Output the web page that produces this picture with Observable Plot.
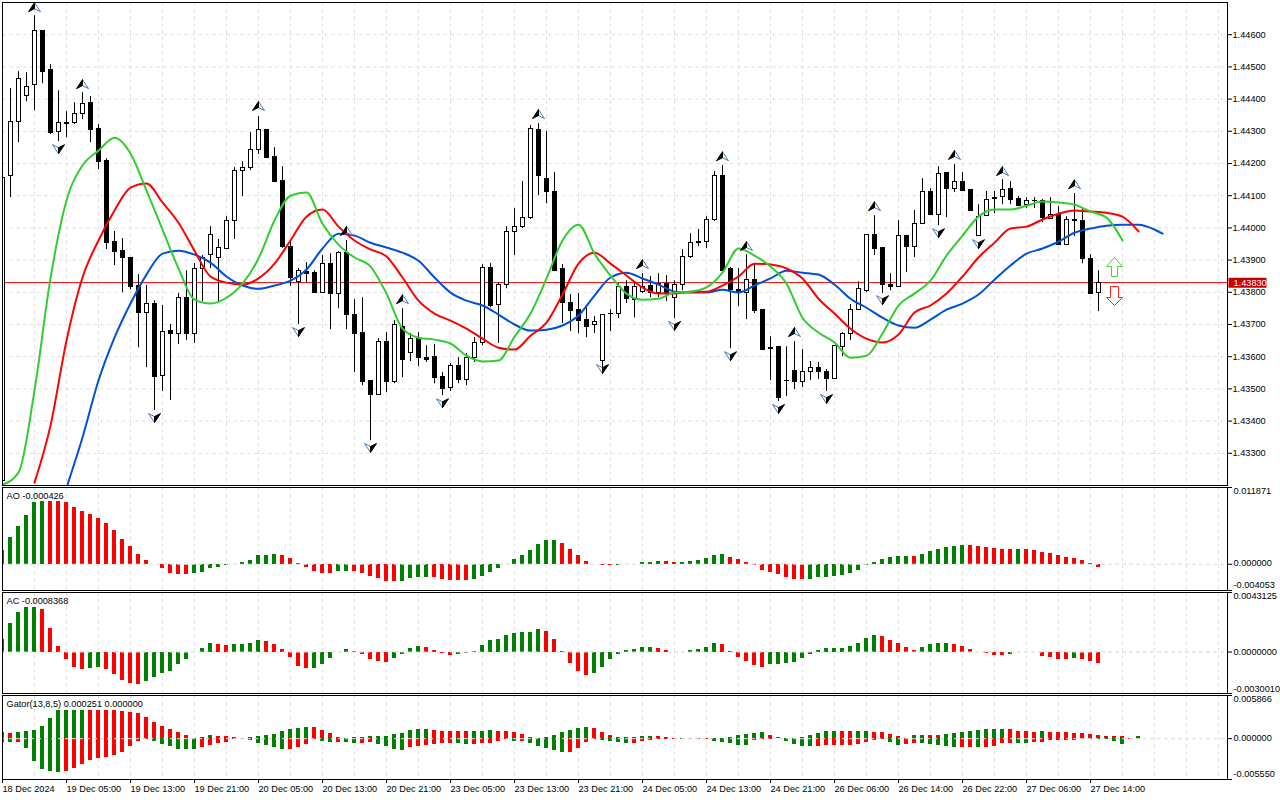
<!DOCTYPE html>
<html><head><meta charset="utf-8">
<script src="https://cdn.jsdelivr.net/npm/d3@7"></script>
<script src="https://cdn.jsdelivr.net/npm/@observablehq/plot@0.6"></script>
<style>html,body{margin:0;background:#fff;overflow:hidden}#chart{position:relative;width:1280px;height:800px}#chart svg{position:absolute;left:0}</style>
</head><body><div id="chart"></div>
<script>
// Prices are stored as points (1e-5) above this base
const priceBase = 1.43;
const open = [215,1162,1330,1411,1445,1610,1489,1299,1324,1327,1355,1389,1308,1209,957,929,908,821,737,765,
541,681,669,783,669,871,917,905,936,1020,1178,1187,1243,1305,1221,1147,942,833,864,861,
799,889,796,923,731,675,523,482,647,520,693,610,659,597,600,538,504,572,529,597,
641,877,762,824,986,1004,1032,1305,1153,1113,871,768,746,715,697,588,732,734,815,777,
802,821,799,827,783,824,911,957,957,1023,1162,871,808,799,839,746,625,631,526,557,
520,554,566,554,532,631,669,746,805,979,939,824,818,976,942,1013,1110,1041,1169,1122,
1144,1119,976,1038,1094,1097,1122,1091,1072,1085,1082,1029,1041,948,1023,1020,902,799];
const high = [1178,1433,1485,1482,1659,1610,1507,1426,1361,1389,1420,1408,1321,1215,989,967,908,855,821,774,
759,700,796,867,889,914,1004,964,1035,1187,1206,1296,1346,1305,1249,1190,961,874,892,867,
914,920,926,961,777,783,523,656,675,712,749,672,675,634,638,551,579,597,610,659,
886,889,830,1004,1060,1144,1318,1324,1299,1172,886,793,796,752,725,731,746,827,836,827,
858,849,858,852,836,933,982,995,1035,1175,1194,877,874,917,889,746,662,631,631,647,
622,585,582,560,634,675,762,833,979,1038,939,858,1023,976,1054,1153,1122,1190,1172,1197,
1172,1119,1072,1113,1113,1150,1144,1097,1094,1094,1088,1094,1066,1035,1107,1060,917,867];
const low = [199,1094,1265,1392,1364,1448,1290,1268,1280,1321,1336,1265,1181,933,883,799,808,628,566,433,
492,464,638,650,641,771,874,771,936,964,1097,1178,1228,1218,1141,936,818,700,830,799,
799,684,749,684,551,510,339,482,488,516,535,585,569,582,516,479,492,516,510,582,
634,752,641,811,914,998,1026,1100,1075,864,703,678,672,659,672,547,678,718,765,721,
796,783,783,771,718,805,905,942,936,1020,867,625,756,715,734,622,526,461,476,498,
504,526,529,492,532,600,650,743,799,914,796,805,815,861,908,1013,1041,1007,1032,1110,
1113,1054,976,1038,1044,1072,1072,1066,1060,1060,1016,1026,945,945,973,889,796,740];
const close = [1156,1330,1461,1439,1613,1485,1296,1327,1327,1355,1386,1305,1206,954,926,905,818,737,765,538,
678,669,783,669,871,908,979,939,1020,1178,1187,1243,1305,1218,1144,942,843,867,858,799,
889,796,923,728,672,520,482,647,520,697,591,656,597,591,535,501,572,529,597,641,
877,759,824,986,1004,1032,1308,1162,1110,867,768,743,712,693,709,728,734,815,780,815,
818,799,827,799,824,911,954,954,1023,1162,867,808,799,839,743,622,628,473,523,520,
551,566,551,532,634,669,746,811,979,936,824,818,976,942,1013,1110,1041,1166,1122,1141,
1116,1054,1035,1088,1091,1119,1088,1069,1085,1082,1032,1041,948,1023,1020,902,796,830];

// Alligator lines, read every second bar
const lipsStart = 0;
const lips = [203,240,495,843,1085,1194,1240,1280,1231,1116,995,874,777,765,783,827,905,1023,1100,1110,1013,948,908,880,796,687,659,653,641,603,585,588,662,734,843,961,1010,920,852,796,777,780,799,802,815,861,936,914,880,827,721,675,644,597,603,672,759,796,836,914,976,1035,1057,1057,1069,1082,1079,1072,1051,1032,961];
const teethStart = 4;
const teeth = [209,386,650,846,961,1054,1125,1138,1079,1016,929,849,830,824,843,889,961,1035,1057,1004,961,933,911,846,774,734,712,687,656,628,622,665,706,793,889,923,889,852,815,796,796,802,802,821,849,889,886,874,843,780,734,687,656,644,669,737,759,796,849,908,954,998,1004,1026,1044,1054,1051,1047,1035,989];
const jawStart = 8;
const jaw = [193,349,526,659,765,855,920,929,917,892,849,821,811,821,836,871,936,982,976,954,939,923,898,846,799,774,759,731,700,681,684,697,728,790,846,861,843,824,802,799,799,808,799,821,843,867,861,855,824,780,752,721,697,690,715,746,765,793,839,883,920,936,957,985,998,1007,1010,1010,995];
const jawLastBar = 145, jawLast = 982;

const fractalUpBars = [4,10,32,43,50,67,80,90,93,99,109,119,125,134];
const fractalUp = [1684,1445,1377,989,777,1352,886,1221,942,675,1066,1225,1175,1134];
const fractalDownBars = [7,19,37,46,55,75,84,91,97,103,110,117,122];
const fractalDown = [1246,411,678,318,457,563,697,603,439,470,777,985,951];
const arrowBar = 139, arrowUpPrice = 877, arrowDownPrice = 790;
const lastPrice = 1.4383;

const priceTicks = [1.446,1.445,1.444,1.443,1.442,1.441,1.44,1.439,1.438,1.437,1.436,1.435,1.434,1.433];

// Oscillators, in millionths
const ao = [2184,4108,5772,7488,9516,9672,9672,9672,9516,8736,8112,7644,7020,6240,5148,3900,2808,1560,624,-104,
-728,-1404,-1560,-1508,-1352,-1196,-624,-572,-260,-104,312,624,1300,1404,1560,1404,936,52,-572,-1092,
-1352,-1352,-1040,-1040,-1040,-1352,-1872,-2132,-2600,-2600,-2600,-2132,-1976,-1976,-1976,-2288,-2444,-2444,-2444,-2288,
-1820,-1196,-728,-104,780,1404,2184,3120,3744,3744,3276,2340,1404,468,-104,-260,-260,-208,-104,-52,
312,312,468,468,312,312,468,624,936,1404,1560,1092,780,312,-208,-884,-1196,-1508,-1976,-2288,
-2288,-2288,-1976,-1976,-1820,-1664,-1352,-884,-208,312,780,1092,1248,1248,1248,1560,2028,2340,2652,2808,
2964,2964,2808,2652,2496,2340,2340,2340,2340,2184,1872,1716,1404,1092,936,624,156,-426];
const aoColor = ("GGGGGGRRRR"+"RRRRRRRRRR"+"RRRRGGGGGG"+"GGGGGRRRRR"+"RRGGRRRRRR"+"GGGGRRRRRG"+"GGGGGGGGGG"+"RRRRRRRGGG"+"GGGRRGGGGG"+"GRRRRRRRRR"+"RGGGGGGGGG"+"GGGGRGGGGG"+"GRRRRRRGRR"+"RRRRRRRR").split("");
const ac = [942,2101,2898,3260,3260,3115,1739,435,-507,-1087,-1232,-1159,-1087,-1232,-1594,-2029,-2246,-2318,-2101,-1811,
-1521,-1377,-869,-507,-24,290,652,580,507,580,580,652,869,797,580,217,-362,-1014,-1159,-1159,
-869,-435,-24,217,72,-145,-507,-652,-725,-435,-145,290,435,362,145,-121,-217,-193,-121,72,
507,869,942,1232,1377,1449,1449,1666,1521,942,72,-797,-1377,-1666,-1521,-1087,-507,-145,145,217,
362,362,290,145,-48,-24,121,217,362,652,580,24,-362,-652,-942,-1087,-869,-869,-797,-725,
-435,-145,145,290,290,290,435,652,1014,1232,1159,869,652,362,145,362,580,652,652,580,
435,217,-48,-72,-217,-217,-145,-24,-48,-24,-290,-362,-507,-507,-435,-507,-652,-837];
const acColor = ("GGGGGRRRRR"+"RGGRRRRRGG"+"GGGGGGGRRG"+"GGGRRRRRRG"+"GGGGRRRRRG"+"GGGRRRRGGG"+"GGGGGGGGRR"+"RRRRGGGGGG"+"GGRRRGGGGG"+"RRRRRRGGGG"+"GGGGGGGGGG"+"RRRRRGGGGR"+"RRRRRRGGGR"+"RRRRGRRR").split("");
const gatorUp = [868,731,868,1005,1142,1689,2785,3881,3881,3881,3881,3881,3881,3881,3881,3744,3607,3470,2922,2237,
1689,1278,868,457,46,183,457,320,320,183,46,183,320,457,594,1005,1278,1415,1552,1552,
1142,731,183,46,183,183,320,320,320,594,731,1142,1278,1278,1142,1005,1005,1005,1005,1005,
1005,1142,1005,1005,868,594,183,0,183,457,868,1142,1415,1552,1415,868,457,183,183,183,
320,320,320,183,46,46,46,46,0,46,46,183,457,594,731,868,457,183,46,46,
183,457,731,1005,1005,1005,1005,1005,1005,868,868,594,320,46,457,457,457,457,594,731,
868,1005,1142,1278,1278,1278,1278,1005,1005,868,1005,868,868,868,731,731,594,457,320,320,320,46,320];
const gatorUpColor = ("RRGGGGGGGG"+"GRRRRRRRRR"+"RRRRRGGRRR"+"RGGGGGGGGR"+"RRRRGRGGGG"+"GGGGRRRRRG"+"GGRRRRRRGG"+"GGGGRRRRGG"+"GGRRRGRRRG"+"RGGGGGRRGG"+"GGGGGRRGGR"+"RRRRGGRRGG"+"GGGGGGRRRR"+"GRRRRRRRRR"+"RRG").split("");
const gatorDown = [457,457,457,1324,3105,4201,4475,4612,4475,4064,3516,2968,2694,2557,2283,1872,1050,365,91,365,
776,1050,1461,1461,1461,1187,913,639,502,91,91,228,639,913,1187,1461,1461,1187,776,91,
365,502,502,502,639,639,502,776,1050,1461,1598,1187,1050,913,776,639,639,639,776,776,
639,639,365,91,365,365,639,1050,1324,1598,1872,1872,1324,502,91,228,365,502,639,639,
365,228,91,91,91,46,91,46,46,365,502,639,913,913,228,91,91,0,365,776,
1050,1050,1050,913,913,913,913,776,502,183,91,502,913,776,639,639,776,913,1050,1187,
1187,1187,1187,1187,1050,639,639,639,639,502,502,274,274,228,183,91,46,91,137,365,776,46,46];
const gatorDownColor = ("GGRGGGGGRR"+"RRRRRRRRRG"+"GGGGGRRRRR"+"RGGGGGRRRR"+"GGRGGRRGGG"+"GRRRRRRGGR"+"RRRRGRGGGG"+"GRRRRGGGGR"+"RRRRRGRRRG"+"GGGGRRRRGG"+"GGRRRRRRRR"+"RGGRRGGGGG"+"RRGRRRRGGR"+"RRRRRRRGGG"+"GRG").split("");

const xTickBars = [0,8,16,24,32,40,48,56,64,72,80,88,96,104,112,120,128,136];
const xTickLabels = ["18 Dec 2024","19 Dec 05:00","19 Dec 13:00","19 Dec 21:00","20 Dec 05:00","20 Dec 13:00","20 Dec 21:00","23 Dec 05:00","23 Dec 13:00","23 Dec 21:00","24 Dec 05:00","24 Dec 13:00","24 Dec 21:00","26 Dec 06:00","26 Dec 14:00","26 Dec 22:00","27 Dec 06:00","27 Dec 14:00"];

const GREEN="#008000", RED="#ff0000", LIPS="#32cd32", JAW="#0050d8", GRID="#e3e3e3";
const toPrice = p => priceBase + p*1e-5;
const gridBars = d3.range(4,156,4);
const xDomain = [0, 1225/8];
const fontStyle = {fontFamily:"'Liberation Sans',sans-serif",fontSize:"9.2px",color:"#000",background:"transparent"};

function frameOpts(top,bottom,yDomain,extra={}){
  const svgTop = top-2;
  return {
    svgTop,
    plot:{
      width:1280, height:(extra.height ?? bottom+1-svgTop),
      marginLeft:2, marginRight:53, marginTop:2, marginBottom:(extra.height ? extra.height-(bottom-svgTop) : 1),
      style:fontStyle,
      x:{type:"linear",domain:xDomain,axis:null},
      y:{type:"linear",domain:yDomain,axis:null},
      color:{type:"identity"}
    }
  };
}
function addPanel(cfg,marks){
  const svg = Plot.plot({...cfg.plot,marks});
  svg.style.top = cfg.svgTop+"px";
  document.getElementById("chart").appendChild(svg);
}
const gridV = () => Plot.gridX(gridBars,{stroke:GRID,strokeOpacity:1,strokeDasharray:"4 3"});
const poly = pts => ({draw(c){pts.forEach((p,k)=>k?c.lineTo(p[0],p[1]):c.moveTo(p[0],p[1]));c.closePath();}});

// ---- main panel
const bars = open.map((o,i)=>({i,o:toPrice(o),h:toPrice(high[i]),l:toPrice(low[i]),c:toPrice(close[i])}));
const sampled = (vals,start)=>vals.map((v,k)=>({i:start+2*k,v:toPrice(v)}));
const jawPts = sampled(jaw,jawStart).concat([{i:jawLastBar,v:toPrice(jawLast)}]);
const upPts = fractalUpBars.map((i,k)=>({i,v:toPrice(fractalUp[k])}));
const downPts = fractalDownBars.map((i,k)=>({i,v:toPrice(fractalDown[k])}));
const dotOpts = (sym,fill,stroke)=>({x:"i",y:"v",r:6,symbol:sym,fill,stroke,strokeWidth:1});

addPanel(frameOpts(2,485,[1.432,1.447]),[
  gridV(),
  Plot.gridY(priceTicks,{stroke:GRID,strokeOpacity:1,strokeDasharray:"4 3"}),
  Plot.ruleY([lastPrice],{stroke:"#e80000",strokeWidth:1}),
  Plot.ruleX(bars,{x:"i",y1:"l",y2:"h",stroke:"#000",strokeWidth:1,clip:true}),
  Plot.rect(bars,{x1:d=>d.i-0.1875,x2:d=>d.i+0.3125,y1:"o",y2:"c",stroke:"#000",strokeWidth:1,shapeRendering:"crispEdges",fill:d=>d.c>=d.o?"#fff":"#000",clip:true}),
  Plot.line(jawPts,{x:"i",y:"v",stroke:JAW,strokeWidth:2,clip:true,curve:"monotone-x"}),
  Plot.line(sampled(teeth,teethStart),{x:"i",y:"v",stroke:RED,strokeWidth:2,clip:true,curve:"monotone-x"}),
  Plot.line(sampled(lips,lipsStart),{x:"i",y:"v",stroke:LIPS,strokeWidth:2,clip:true,curve:"monotone-x"}),
  Plot.dot(upPts,dotOpts(poly([[0,-5],[6,4],[0,1]]),"#fff","#4a78b0")),
  Plot.dot(upPts,dotOpts(poly([[0,-5],[-6,4],[0,1]]),"#000","#000")),
  Plot.dot(downPts,dotOpts(poly([[0,5],[-6,-4],[0,-1]]),"#fff","#4a78b0")),
  Plot.dot(downPts,dotOpts(poly([[0,5],[6,-4],[0,-1]]),"#000","#000")),
  Plot.dot([{i:arrowBar,v:toPrice(arrowUpPrice)}],dotOpts(poly([[0,-10],[8,-1],[3,-1],[3,9],[-3,9],[-3,-1],[-8,-1]]),"#fff","#4fce3f")),
  Plot.dot([{i:arrowBar,v:toPrice(arrowDownPrice)}],dotOpts(poly([[-4,-9],[4,-9],[4,2],[8,2],[0,10],[-8,2],[-4,2]]),"#fff","#ff2020")),
  Plot.axisY(priceTicks,{anchor:"right",tickSize:4,tickPadding:1,label:null,tickFormat:d3.format(".5f")}),
  Plot.frame({stroke:"#000"}),
  Plot.dot([lastPrice],{y:d=>d,frameAnchor:"right",dx:20,r:6,symbol:poly([[-19,-5],[19,-5],[19,5],[-19,5]]),fill:"#c80000",stroke:"none"}),
  Plot.text([lastPrice],{y:d=>d,frameAnchor:"right",dx:6,text:d=>d.toFixed(5),fill:"#fff",textAnchor:"start"})
]);

// ---- oscillator panels
function histogram(vals,colors){
  return Plot.rect(vals.map((v,i)=>({i,v:v*1e-6,col:colors[i]==="G"?GREEN:RED})),
    {x1:d=>d.i-0.25,x2:d=>d.i+0.25,y1:0,y2:"v",fill:"col",shapeRendering:"crispEdges",clip:true});
}
function sideLabels(values){
  return values.map(([v,txt,anchor,dy])=>Plot.text([v],{y:d=>d,frameAnchor:"right",dx:6,dy,text:()=>txt,textAnchor:"start",lineAnchor:anchor,fill:"#000"}));
}
function sideTicks(values){
  return Plot.axisY(values.map(d=>d[0]),{anchor:"right",tickSize:4,label:null,tickFormat:()=>""});
}
function oscillator(top,bottom,domain,title,hists,ticks,extra,more=[]){
  addPanel(frameOpts(top,bottom,domain,extra),[
    gridV(),
    Plot.ruleY([0],{stroke:GRID,strokeDasharray:"4 3"}),
    ...hists,
    Plot.ruleY([0],{stroke:GRID,strokeDasharray:"4 3"}),
    sideTicks(ticks),
    ...sideLabels(ticks),
    ...more,
    Plot.frame({stroke:"#000"}),
    Plot.text([title],{frameAnchor:"top-left",dx:4,dy:5,text:d=>d,fill:"#000",textAnchor:"start",lineAnchor:"top"})
  ]);
}
oscillator(487,590,[-0.004053,0.011871],"AO -0.000426",[histogram(ao,aoColor)],
  [[0.011871,"0.011871","top",0],[0,"0.000000","middle",-1],[-0.004053,"-0.004053","bottom",-3]]);
oscillator(592,693,[-0.0030010,0.0043125],"AC -0.0008368",[histogram(ac,acColor)],
  [[0.0043125,"0.0043125","top",0],[0,"0.0000000","middle",0],[-0.0030010,"-0.0030010","bottom",-2]]);
oscillator(695,779,[-0.00555,0.005866],"Gator(13,8,5) 0.000251 0.000000",
  [histogram(gatorUp,gatorUpColor),histogram(gatorDown.map(v=>-v),gatorDownColor)],
  [[0.005866,"0.005866","top",0],[0,"0.000000","middle",-1],[-0.00555,"-0.005550","bottom",-3]],
  {height:107},
  [Plot.axisX(xTickBars,{anchor:"bottom",tickSize:4,tickPadding:2,label:null,textAnchor:"start",tickFormat:d=>xTickLabels[xTickBars.indexOf(d)]})]);
</script></body></html>
